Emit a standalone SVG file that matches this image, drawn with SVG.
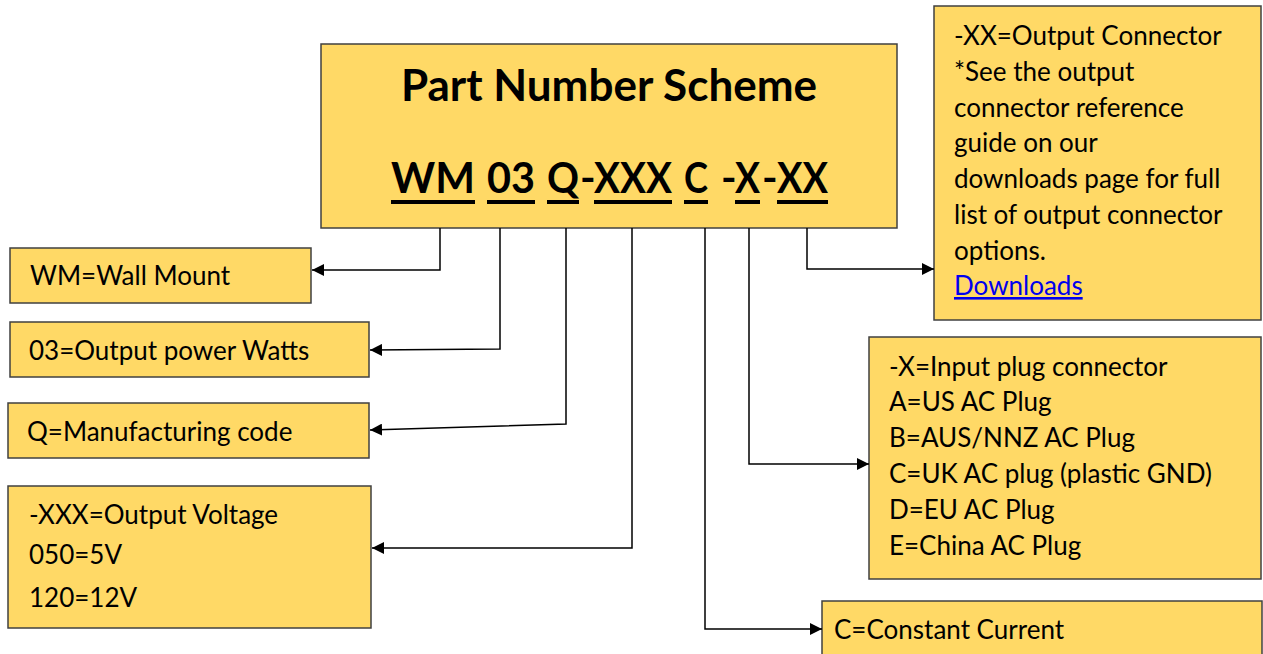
<svg xmlns="http://www.w3.org/2000/svg" width="1263" height="654" viewBox="0 0 1263 654">
<defs>
<style>
.box{fill:#FFD966;stroke:#404040;stroke-width:1.5}
.t{font-family:Lato,"Open Sans",sans-serif;font-size:26px;fill:#000}
.h{font-family:Lato,"Open Sans",sans-serif;font-size:44px;font-weight:bold;fill:#000}
.c{fill:none;stroke:#000;stroke-width:1.5}
.u{stroke:#000;stroke-width:4}
</style>
<marker id="ah" viewBox="0 0 10 10" refX="10" refY="5" markerWidth="12" markerHeight="12" markerUnits="userSpaceOnUse" orient="auto"><path d="M0,0 L10,5 L0,10 z" fill="#000"/></marker>
</defs>
<rect width="1263" height="654" fill="#fff"/>
<g id="main">
<rect class="box" x="321" y="44" width="576" height="184"/>
<text class="h" x="609" y="101" text-anchor="middle">Part Number Scheme</text>
<g class="h" style="font-size:42px">
<text x="391" y="193" textLength="84" lengthAdjust="spacingAndGlyphs">WM</text>
<text x="487" y="193" textLength="48" lengthAdjust="spacingAndGlyphs">03</text>
<text x="547" y="193" textLength="32" lengthAdjust="spacingAndGlyphs">Q</text>
<text x="580" y="193">-</text>
<text x="594" y="193" textLength="78" lengthAdjust="spacingAndGlyphs">XXX</text>
<text x="684" y="193" textLength="24" lengthAdjust="spacingAndGlyphs">C</text>
<text x="721" y="193">-</text>
<text x="735" y="193" textLength="25" lengthAdjust="spacingAndGlyphs">X</text>
<text x="762" y="193">-</text>
<text x="777" y="193" textLength="51" lengthAdjust="spacingAndGlyphs">XX</text>
</g>
<g class="u">
<line x1="391" y1="202" x2="475" y2="202"/>
<line x1="487" y1="202" x2="535" y2="202"/>
<line x1="547" y1="202" x2="579" y2="202"/>
<line x1="594" y1="202" x2="672" y2="202"/>
<line x1="684" y1="202" x2="708" y2="202"/>
<line x1="735" y1="202" x2="760" y2="202"/>
<line x1="777" y1="202" x2="828" y2="202"/>
</g>
</g>
<g id="wm">
<rect class="box" x="10" y="248" width="301" height="55"/>
<text class="t" x="30" y="285">WM=Wall Mount</text>
</g>
<g id="watts">
<rect class="box" x="10" y="322" width="359" height="55"/>
<text class="t" x="29" y="360">03=Output power Watts</text>
</g>
<g id="mfg">
<rect class="box" x="8" y="403" width="361" height="55"/>
<text class="t" x="27" y="441">Q=Manufacturing code</text>
</g>
<g id="voltage">
<rect class="box" x="8" y="486" width="363" height="142"/>
<text class="t" x="29" y="524">-XXX=Output Voltage</text>
<text class="t" x="29" y="564">050=5V</text>
<text class="t" x="29" y="607">120=12V</text>
</g>
<g id="current">
<rect class="box" x="822" y="601" width="440" height="60"/>
<text class="t" x="834" y="639">C=Constant Current</text>
</g>
<g id="plug">
<rect class="box" x="869" y="337" width="392" height="242"/>
<text class="t" x="889" y="376">-X=Input plug connector</text>
<text class="t" x="889" y="411">A=US AC Plug</text>
<text class="t" x="889" y="447">B=AUS/NNZ AC Plug</text>
<text class="t" x="889" y="483">C=UK AC plug (plastic GND)</text>
<text class="t" x="889" y="519">D=EU AC Plug</text>
<text class="t" x="889" y="555">E=China AC Plug</text>
</g>
<g id="connector">
<rect class="box" x="934" y="6" width="327" height="314"/>
<text class="t" x="954" y="45">-XX=Output Connector</text>
<text class="t" x="954" y="81">*See the output</text>
<text class="t" x="954" y="117">connector reference</text>
<text class="t" x="954" y="152">guide on our</text>
<text class="t" x="954" y="188">downloads page for full</text>
<text class="t" x="954" y="224">list of output connector</text>
<text class="t" x="954" y="260">options.</text>
<text class="t" x="954" y="295" style="fill:#0000EE" text-decoration="underline">Downloads</text>
</g>
<g id="connectors">
<polyline class="c" points="440,228 440,270 312,270" marker-end="url(#ah)"/>
<polyline class="c" points="500,228 500,349 370,350" marker-end="url(#ah)"/>
<polyline class="c" points="566,228 566,424 370,430" marker-end="url(#ah)"/>
<polyline class="c" points="632,228 632,548 372,548" marker-end="url(#ah)"/>
<polyline class="c" points="705,228 705,629 822,629" marker-end="url(#ah)"/>
<polyline class="c" points="749,228 749,464 869,464" marker-end="url(#ah)"/>
<polyline class="c" points="807,228 807,269 934,269" marker-end="url(#ah)"/>
</g>
</svg>
